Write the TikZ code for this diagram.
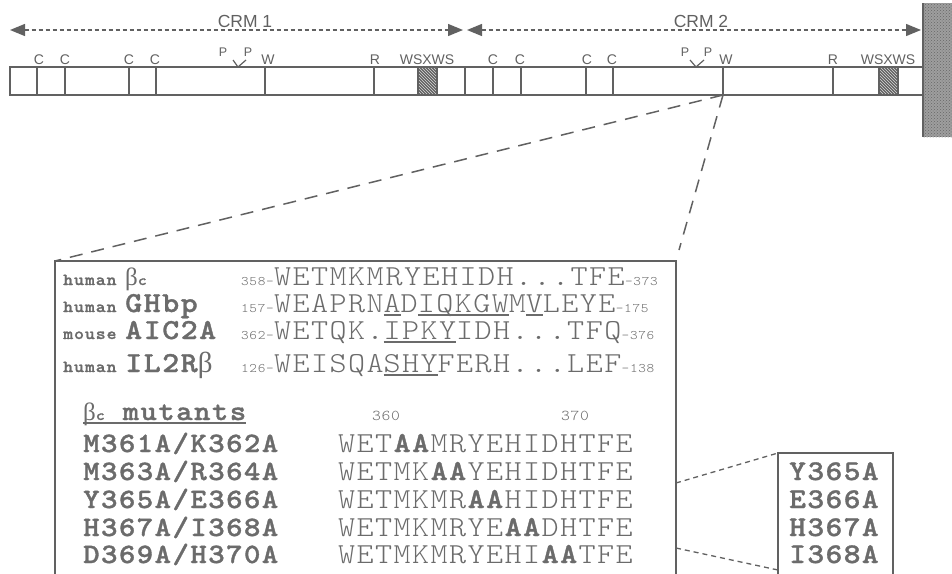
\documentclass[tikz,border=0pt]{standalone}
\usepackage{fontspec}
\usepackage{tikz}
\usetikzlibrary{arrows.meta,patterns,positioning}
\setmainfont{Liberation Sans}
\newfontfamily\helv{Liberation Sans}
\newfontfamily\grk{Liberation Serif}
\newfontfamily\cour{lmmonolt10-regular.otf}[BoldFont=lmmonolt10-bold.otf,BoldFeatures={FakeBold=1.2},FakeStretch=1.12,LetterSpace=5]
\definecolor{ink}{gray}{0.38}
\definecolor{txt}{gray}{0.42}
\newcommand{\ulin}[1]{\setbox0=\hbox{#1}\rlap{\rule[-3.5pt]{\wd0}{1.1pt}}\box0}
\newcommand{\bc}{{\grk\mdseries\fontsize{25}{25}\selectfont β}{\bfseries\fontsize{15}{15}\selectfont c}}

\tikzstyle{bar}=[ink,line width=1.2pt]
\tikzstyle{hatch}=[ink,line width=1.2pt,preaction={fill=black!62},pattern=north west lines,pattern color=white!85!black]
\tikzstyle{memb}=[preaction={fill=black!38},pattern=crosshatch dots,pattern color=black!60]
\tikzstyle{lbl}=[anchor=base,inner sep=0pt,text=ink,font=\helv\fontsize{14}{14}\selectfont]
\tikzstyle{plbl}=[anchor=base,inner sep=0pt,text=ink,font=\helv\fontsize{12.5}{12.5}\selectfont]
\tikzstyle{crm}=[anchor=base,inner sep=0pt,text=ink,font=\helv\fontsize{17.5}{17.5}\selectfont]
\tikzstyle{span}=[ink,line width=1.3pt,dash pattern=on 4pt off 3pt,{Triangle[length=15pt,width=12pt]}-{Triangle[length=15pt,width=12pt]}]
\tikzstyle{zoomln}=[ink,line width=1.5pt,dash pattern=on 13pt off 9pt]
\tikzstyle{fineln}=[ink,line width=1.3pt,dash pattern=on 5pt off 4pt]
\tikzstyle{frame}=[ink,line width=1.5pt]
\tikzstyle{sp}=[anchor=base west,inner sep=0pt,text=txt,text height=10pt,text depth=0pt,font=\cour\bfseries\fontsize{17}{17}\selectfont]
\tikzstyle{prot}=[anchor=base west,inner sep=0pt,text=txt,text height=18pt,text depth=3pt,font=\cour\bfseries\fontsize{29}{29}\selectfont]
\tikzstyle{num}=[anchor=base west,inner sep=0pt,text=txt,text height=8pt,text depth=0pt,font=\cour\fontsize{13}{13}\selectfont]
\tikzstyle{seq}=[anchor=base west,inner sep=0pt,text=txt,text height=18pt,text depth=3pt,font=\cour\fontsize{29}{29}\selectfont]
\tikzstyle{mut}=[anchor=base west,inner sep=0pt,text=txt,text height=18pt,text depth=1pt,font=\cour\bfseries\fontsize{28}{28}\selectfont]
\tikzstyle{mseq}=[anchor=base west,inner sep=0pt,text=txt,text height=18pt,text depth=1pt,font=\cour\fontsize{29}{29}\selectfont]
\tikzstyle{single}=[anchor=base west,inner sep=0pt,text=txt,text height=17pt,text depth=1pt,font=\cour\bfseries\fontsize{28.5}{28.5}\selectfont]
\tikzstyle{resno}=[anchor=base,inner sep=0pt,text=txt,font=\cour\fontsize{15}{15}\selectfont]

\begin{document}
\begin{tikzpicture}[x=1pt,y=-1pt]
\useasboundingbox (0,0) rectangle (952,573);

% receptor chain with the two CRMs
\draw[bar] (10,67) rectangle (923,95);
\foreach \x in {37,65,129,156,265,374,465,493,521,586,613,723,833}
  \draw[bar] (\x,67) -- (\x,95);
\foreach \x in {418,879}
  \draw[hatch] (\x,67) rectangle ++(19,28);
\fill[memb] (923,3) rectangle (952,137);
\draw[bar] (923,3) -- (923,137);

\coordinate (c1l) at (10,30);
\coordinate (c1r) at (463,30);
\coordinate (c2l) at (467,30);
\coordinate (c2r) at (921,30);
\draw[span] (c1l) -- (c1r);
\draw[span] (c2l) -- (c2r);
\node[crm] (crm1) at (245,27) {CRM 1};
\node[crm] (crm2) at (701,27) {CRM 2};

% residue marks, CRM 1
\node[lbl] (a1) at (39,64) {C};
\node[lbl] (a2) at (65,64) {C};
\node[lbl] (a3) at (129,64) {C};
\node[lbl] (a4) at (155,64) {C};
\node[plbl] (a5) at (223,56) {P};
\node[plbl] (a6) at (248,56) {P};
\draw[bar] (233,60) -- (238,67) -- (246,60);
\node[lbl] (a7) at (268,64) {W};
\node[lbl] (a8) at (375,64) {R};
\node[lbl] (a9) at (427,64) {WSXWS};
% residue marks, CRM 2
\node[lbl] (b1) at (493,64) {C};
\node[lbl] (b2) at (520,64) {C};
\node[lbl] (b3) at (587,64) {C};
\node[lbl] (b4) at (612,64) {C};
\node[plbl] (b5) at (685,56) {P};
\node[plbl] (b6) at (708,56) {P};
\draw[bar] (690,60) -- (696,67) -- (704,60);
\node[lbl] (b7) at (726,64) {W};
\node[lbl] (b8) at (833,64) {R};
\node[lbl] (b9) at (888,64) {WSXWS};

% enlarged region
\coordinate (wpt) at (723,95);
\coordinate (bxtl) at (55,261);
\coordinate (bxtr) at (676,261);
\coordinate (bxbl) at (55,575);
\coordinate (bxbr) at (676,575);
\coordinate (zend) at (679,250);
\draw[zoomln] (wpt) -- (bxtl);
\draw[zoomln] (wpt) -- (zend);
\draw[frame] (bxbl) -- (bxtl) -- (bxtr) -- (bxbr);

% aligned sequences
\node[sp] (o1) at (63,285) {human};
\node[sp] (o2) at (63,312) {human};
\node[sp] (o3) at (63,339) {mouse};
\node[sp] (o4) at (63,372) {human};
\node[prot] (p1) at (125,285) {\bc};
\node[prot] (p2) at (125,312) {GHbp};
\node[prot] (p3) at (125,339) {AIC2A};
\node[prot] (p4) at (125,372) {IL2R{\grk\mdseries β}};
\node[num] (n1) at (241,285) {358-};
\node[num] (n2) at (241,312) {157-};
\node[num] (n3) at (241,339) {362-};
\node[num] (n4) at (241,372) {126-};
\node[seq] (s1) at (n1.base east) {WETMKM\hspace{2pt}RYEHIDH...TFE};
\node[seq] (s2) at (n2.base east) {WEAPRN\ulin{A}D\ulin{IQKGW}M\ulin{V}LEYE};
\node[seq] (s3) at (n3.base east) {WETQK.\ulin{IPKY}IDH...TFQ};
\node[seq] (s4) at (n4.base east) {WEISQA\ulin{SHY}FERH...LEF};
\node[num] (e1) at (s1.base east) {-373};
\node[num] (e2) at (s2.base east) {-175};
\node[num] (e3) at (s3.base east) {-376};
\node[num] (e4) at (s4.base east) {-138};

% mutants
\node[mut] (mh) at (83,420) {\ulin{\bc\ mutants}};
\node[resno] (k1) at (386,420) {360};
\node[resno] (k2) at (575,420) {370};
\node[mut] (m1) at (83,452) {M361A/K362A};
\node[mut] (m2) at (83,480) {M363A/R364A};
\node[mut] (m3) at (83,508) {Y365A/E366A};
\node[mut] (m4) at (83,536) {H367A/I368A};
\node[mut] (m5) at (83,563) {D369A/H370A};
\node[mseq] (q1) at (338,452) {WET\textbf{AA}MRYEHIDHTFE};
\node[mseq] (q2) at (338,480) {WETMK\textbf{AA}YEHIDHTFE};
\node[mseq] (q3) at (338,508) {WETMKMR\textbf{AA}HIDHTFE};
\node[mseq] (q4) at (338,536) {WETMKMRYE\textbf{AA}DHTFE};
\node[mseq] (q5) at (338,563) {WETMKMRYEHI\textbf{AA}TFE};

% single mutants
\coordinate (sbtl) at (778,453);
\coordinate (sbtr) at (893,453);
\coordinate (sbbl) at (778,575);
\coordinate (sbbr) at (893,575);
\coordinate (fa) at (676,483);
\coordinate (fb) at (676,548);
\coordinate (fc) at (778,570);
\draw[frame] (sbbl) -- (sbtl) -- (sbtr) -- (sbbr);
\draw[fineln] (fa) -- (sbtl);
\draw[fineln] (fb) -- (fc);
\node[single] (r1) at (789,480) {Y365A};
\node[single] (r2) at (789,508) {E366A};
\node[single] (r3) at (789,536) {H367A};
\node[single] (r4) at (789,563) {I368A};
\end{tikzpicture}
\end{document}
